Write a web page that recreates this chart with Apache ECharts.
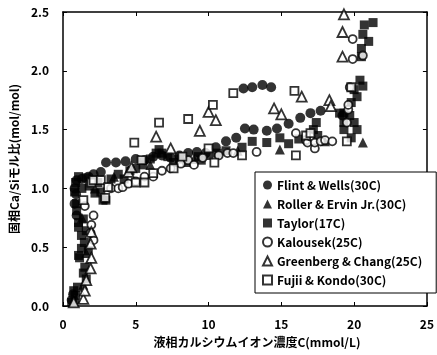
<!DOCTYPE html>
<html>
<head>
<meta charset="utf-8">
<script src="https://cdn.jsdelivr.net/npm/echarts@6/dist/echarts.min.js"></script>
<style>
  html, body { margin: 0; padding: 0; background: #fff; }
  #chart { width: 437px; height: 355px; }
</style>
</head>
<body>
<div id="chart"></div>
<script>
// Ca/Si molar ratio of the solid phase vs. Ca ion concentration of the liquid phase
const seriesNames = [
  'Flint & Wells(30C)',
  'Roller & Ervin Jr.(30C)',
  'Taylor(17C)',
  'Kalousek(25C)',
  'Greenberg & Chang(25C)',
  'Fujii & Kondo(30C)'
];

const xTicks = [0, 5, 10, 15, 20, 25];
const yTicks = [0.0, 0.5, 1.0, 1.5, 2.0, 2.5];

// [C (mmol/L), Ca/Si (mol/mol)]
const flintWells = [
  [0.6, 0.05], [0.7, 0.10], [0.8, 0.87], [0.94, 0.77], [0.9, 0.95], [0.8, 1.00],
  [0.94, 1.07], [1.3, 1.08], [1.75, 1.10], [2.1, 1.12], [2.6, 1.14], [2.96, 1.22],
  [3.64, 1.22], [4.3, 1.23], [5.0, 1.25], [5.6, 1.24], [6.2, 1.27], [6.8, 1.28],
  [7.4, 1.26], [8.0, 1.28], [8.6, 1.30], [9.2, 1.31], [9.8, 1.30], [10.5, 1.35],
  [11.2, 1.40], [11.9, 1.43], [12.5, 1.51], [13.1, 1.50], [14.0, 1.49], [14.7, 1.51],
  [15.5, 1.55], [16.3, 1.60], [17.0, 1.64], [17.7, 1.66], [19.2, 1.62],
  [12.4, 1.85], [13.0, 1.86], [13.7, 1.88], [14.3, 1.86]
];

const rollerErvin = [
  [0.9, 0.06], [1.4, 0.18], [1.6, 0.45], [1.3, 0.75], [2.2, 1.00], [3.5, 1.10],
  [6.0, 1.20], [9.0, 1.25], [12.0, 1.32], [14.9, 1.33], [18.0, 1.40], [20.6, 1.39]
];

const taylor = [
  [0.6, 0.03], [0.87, 0.09], [0.74, 0.13], [1.0, 0.16], [1.6, 0.23], [1.4, 0.28],
  [1.5, 0.33], [1.07, 0.43], [1.14, 0.41], [1.74, 0.47], [1.27, 0.49], [1.47, 0.54],
  [1.27, 0.60], [1.6, 0.64], [1.07, 0.67], [1.07, 0.71], [1.4, 0.74], [0.94, 0.81],
  [0.94, 0.87], [0.8, 0.97], [1.07, 1.10], [0.87, 1.05], [1.6, 1.09], [2.2, 0.96],
  [2.6, 0.97], [2.75, 0.90], [2.95, 0.90], [1.3, 1.00], [1.8, 1.02], [2.4, 1.05],
  [3.3, 1.08], [3.8, 1.12], [4.2, 1.08], [4.6, 1.15], [5.0, 1.17], [5.5, 1.20],
  [6.0, 1.25], [6.4, 1.30], [6.6, 1.33], [6.8, 1.30], [7.2, 1.27], [7.6, 1.22],
  [8.0, 1.25], [8.5, 1.22], [9.3, 1.27], [9.5, 1.24], [10.0, 1.28], [10.6, 1.30],
  [11.2, 1.32], [12.3, 1.35], [13.0, 1.40], [14.0, 1.39], [14.9, 1.43], [15.5, 1.38],
  [16.2, 1.42], [17.4, 1.56], [17.5, 1.45], [17.2, 1.50],
  [19.0, 1.64], [19.3, 1.64], [19.7, 1.62], [19.3, 1.56], [20.0, 1.56], [19.3, 1.50],
  [20.2, 1.50], [19.8, 1.43], [19.8, 1.73], [20.2, 1.78], [20.0, 1.84], [20.6, 1.87],
  [20.4, 1.92], [20.5, 2.12], [20.5, 2.19], [21.0, 2.25], [20.6, 2.31], [20.7, 2.39],
  [21.3, 2.41]
];

const kalousek = [
  [1.5, 0.85], [2.1, 0.77], [1.95, 0.69], [2.1, 0.56], [1.9, 0.62],
  [3.3, 1.00], [3.8, 1.00], [4.1, 1.01], [4.5, 1.04], [5.0, 1.06], [5.6, 1.10],
  [6.2, 1.10], [6.8, 1.15], [7.4, 1.17], [8.1, 1.21], [8.6, 1.24], [9.0, 1.20],
  [9.6, 1.26], [10.7, 1.28], [11.3, 1.30], [11.7, 1.30], [13.3, 1.31],
  [16.0, 1.47], [16.7, 1.41], [16.8, 1.39], [17.0, 1.44], [17.3, 1.34], [17.3, 1.39],
  [17.7, 1.40], [18.0, 1.41], [18.5, 1.40], [19.5, 1.56], [19.6, 1.67], [19.6, 1.71],
  [19.7, 1.86], [19.9, 2.10], [19.9, 2.27], [20.6, 2.13]
];

const greenbergChang = [
  [0.74, 0.03], [1.4, 0.06], [1.5, 0.13], [1.6, 0.22], [1.9, 0.32], [1.95, 0.41],
  [1.9, 0.53], [1.95, 0.63],
  [4.5, 1.14], [4.7, 1.18], [6.4, 1.44], [7.4, 1.34], [9.4, 1.49], [10.0, 1.65],
  [10.5, 1.58], [14.5, 1.68], [15.0, 1.63],
  [16.4, 1.78], [18.3, 1.75], [18.4, 1.70], [19.2, 2.12], [19.2, 2.33], [19.3, 2.48]
];

const fujiiKondo = [
  [1.4, 0.90], [1.95, 1.05], [2.1, 1.07], [2.6, 1.07], [3.1, 1.01], [2.9, 0.92],
  [4.9, 1.39], [5.0, 1.05], [5.4, 1.24], [5.6, 1.05], [6.2, 1.13], [6.6, 1.56],
  [7.6, 1.17], [8.2, 1.27], [8.6, 1.59], [10.0, 1.34], [10.3, 1.71], [10.4, 1.22],
  [11.7, 1.81], [12.3, 1.28],
  [15.9, 1.83], [16.0, 1.28], [16.7, 1.45], [17.0, 1.47], [19.5, 1.40], [19.8, 1.86]
];

const FONT = '"Noto Sans CJK JP", "Liberation Sans", sans-serif';

const filled = { color: '#000' };
const hollow = { color: '#fff', borderColor: '#000', borderWidth: 1.8 };

const chart = echarts.init(document.getElementById('chart'), null, { renderer: 'canvas' });

const axisCommon = {
  axisLine: { show: true, onZero: false, lineStyle: { color: '#000', width: 1.5 } },
  axisTick: { show: true, inside: true, length: 4, lineStyle: { color: '#000', width: 1 } },
  splitLine: { show: false }
};

chart.setOption({
  animation: false,
  backgroundColor: '#fff',
  textStyle: { fontFamily: FONT },
  grid: { left: 59, right: 7, top: 12, bottom: 49 },
  legend: {
    orient: 'vertical',
    left: 255,
    top: 172,
    padding: [7, 14, 7, 7],
    itemGap: 7,
    itemWidth: 9,
    itemHeight: 9,
    backgroundColor: '#fff',
    borderColor: '#000',
    borderWidth: 1,
    borderRadius: 0,
    textStyle: { fontFamily: FONT, fontSize: 12, fontWeight: 'bold', color: '#000' },
    data: seriesNames
  },
  xAxis: [
    Object.assign({}, axisCommon, {
      type: 'value', min: xTicks[0], max: xTicks[xTicks.length - 1], interval: 5,
      name: '液相カルシウムイオン濃度C(mmol/L)',
      nameLocation: 'middle', nameGap: 30,
      nameTextStyle: { fontFamily: FONT, fontSize: 12, fontWeight: 'bold', color: '#000', padding: [0, 0, 0, 24] },
      axisLabel: { margin: 12, fontFamily: FONT, fontSize: 12, fontWeight: 'bold', color: '#000' }
    }),
    Object.assign({}, axisCommon, {
      type: 'value', position: 'top', min: 0, max: 25, interval: 5,
      axisLabel: { show: false }
    })
  ],
  yAxis: [
    Object.assign({}, axisCommon, {
      type: 'value', min: yTicks[0], max: yTicks[yTicks.length - 1], interval: 0.5,
      name: '固相Ca/Siモル比(mol/mol)',
      nameLocation: 'middle', nameGap: 42,
      nameTextStyle: { fontFamily: FONT, fontSize: 12, fontWeight: 'bold', color: '#000' },
      axisLabel: { margin: 14, fontFamily: FONT, fontSize: 12, fontWeight: 'bold', color: '#000',
        formatter: v => v.toFixed(1) }
    }),
    Object.assign({}, axisCommon, {
      type: 'value', position: 'right', min: 0, max: 2.5, interval: 0.5,
      axisLabel: { show: false }
    })
  ],
  series: [
    { name: seriesNames[0], type: 'scatter', symbol: 'circle', symbolSize: 10, itemStyle: filled, data: flintWells },
    { name: seriesNames[1], type: 'scatter', symbol: 'triangle', symbolSize: 10, itemStyle: filled, data: rollerErvin },
    { name: seriesNames[2], type: 'scatter', symbol: 'rect', symbolSize: 9, itemStyle: filled, data: taylor },
    { name: seriesNames[3], type: 'scatter', symbol: 'circle', symbolSize: 8, itemStyle: hollow, data: kalousek },
    { name: seriesNames[4], type: 'scatter', symbol: 'triangle', symbolSize: 10, itemStyle: hollow, data: greenbergChang },
    { name: seriesNames[5], type: 'scatter', symbol: 'rect', symbolSize: 8, itemStyle: hollow, data: fujiiKondo }
  ]
});
</script>
</body>
</html>
